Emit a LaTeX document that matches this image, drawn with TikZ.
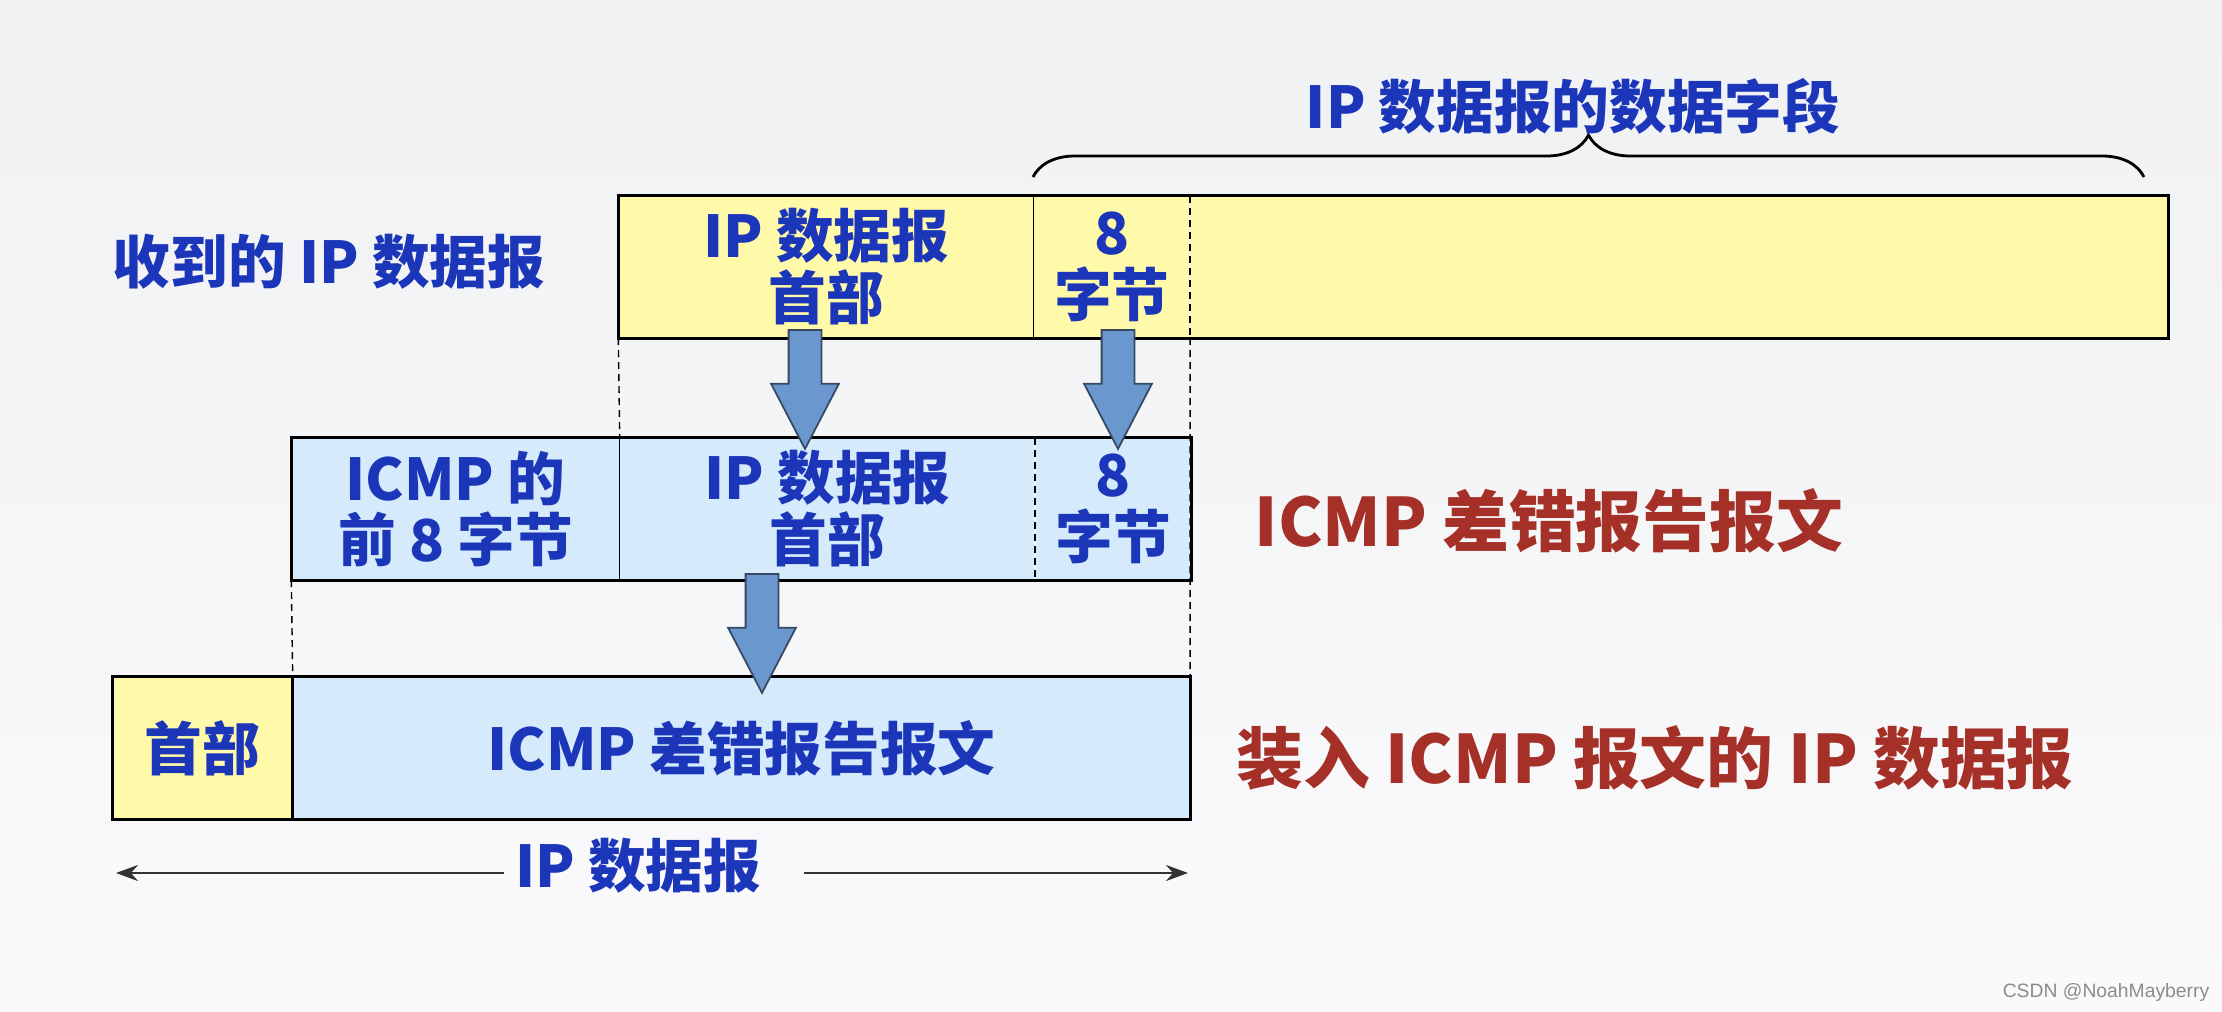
\documentclass[tikz,border=0pt]{standalone}
\usepackage{fontspec}
\setmainfont{Noto Sans CJK SC}
\setsansfont{Liberation Sans}
\usetikzlibrary{arrows.meta, positioning, calc, shapes.arrows, decorations.pathreplacing}

\definecolor{bgtop}{RGB}{240,241,243}
\definecolor{bgbot}{RGB}{250,250,252}
\definecolor{pktyellow}{RGB}{255,250,170}
\definecolor{pktblue}{RGB}{213,234,250}
\definecolor{txtblue}{RGB}{28,54,186}
\definecolor{txtred}{RGB}{165,48,40}
\definecolor{arrowfill}{RGB}{106,152,206}
\definecolor{arrowedge}{RGB}{55,72,100}

\newcommand{\pktfont}{\fontsize{16.4}{17.6}\selectfont\bfseries}
\newcommand{\lblfont}{\fontsize{19}{21}\selectfont\bfseries}

\begin{document}
\begin{tikzpicture}[
  x=0.1mm, y=-0.1mm,
  yel/.style={fill=pktyellow, inner sep=0, minimum height=14.1mm, align=center, text=txtblue, font=\pktfont},
  blu/.style={yel, fill=pktblue},
  frame/.style={line width=0.9pt},
  sep/.style={line width=0.4pt},
  guide/.style={line width=0.4pt, dash pattern=on 0.7mm off 0.5mm},
  bigarrow/.style={single arrow, draw=arrowedge, fill=arrowfill, line width=0.5pt, inner sep=1.55mm, minimum height=11.9mm, minimum width=0pt, single arrow head extend=1.75mm, single arrow tip angle=55, rotate=-90, anchor=tail},
  bluelbl/.style={text=txtblue, font=\pktfont, inner sep=0},
  redlbl/.style={text=txtred, font=\lblfont, inner sep=0, anchor=west},
  dimarr/.style={-{Stealth[length=2.2mm, width=1.6mm]}, line width=0.8pt, draw=black!80}
]
% background
\shade[top color=bgtop, bottom color=bgbot] (0,0) rectangle (2222,1012);

% received datagram
\node[yel, minimum width=41.4mm] (rhdr) at (826,267) {IP 数据报\\首部};
\node[yel, minimum width=15.5mm, right=0pt of rhdr] (r8) {8\\字节};
\node[yel, minimum width=97.7mm, right=0pt of r8] (rdata) {};
\draw[frame] (rhdr.north west) rectangle (rdata.south east);
\draw[sep] (rhdr.north east) -- (rhdr.south east);
\draw[guide] (r8.north east) -- (r8.south east);
\node[bluelbl] (rlbl) at (329,262) {收到的 IP 数据报};

% data field brace
\coordinate (brL) at (1033,177);
\coordinate (brR) at (2144,177);
\draw[line width=0.8pt, decorate, decoration={brace, amplitude=4.2mm}] (brL) -- (brR);
\node[bluelbl] (brlbl) at (1573,106) {IP 数据报的数据字段};

% ICMP error message
\node[blu, minimum width=32.7mm] (micmp) at (455.5,509) {ICMP 的\\前 8 字节};
\node[blu, minimum width=41.4mm, right=0pt of micmp] (mhdr) {IP 数据报\\首部};
\node[blu, minimum width=15.5mm, right=0pt of mhdr] (m8) {8\\字节};
\draw[frame] (micmp.north west) rectangle (m8.south east);
\draw[sep] (micmp.north east) -- (micmp.south east);
\draw[guide] (mhdr.north east) -- (mhdr.south east);
\node[redlbl] (mlbl) at (1254,521) {ICMP 差错报告报文};

% IP datagram carrying ICMP
\node[yel, minimum width=17.9mm] (bhdr) at (202.5,748) {首部};
\node[blu, minimum width=89.6mm, right=0pt of bhdr] (bmsg) {ICMP 差错报告报文};
\draw[frame] (bhdr.north west) rectangle (bmsg.south east);
\draw[frame] (bhdr.north east) -- (bhdr.south east);
\node[redlbl] (blbl) at (1236,758) {装入 ICMP 报文的 IP 数据报};

% dashed guides
\draw[guide] (rhdr.south west) -- (mhdr.north west);
\draw[guide] (r8.south east) -- (bmsg.north east);
\draw[guide] (micmp.south west) -- (bmsg.north west);

% block arrows
\node[bigarrow] (a1) at (805,329) {};
\node[bigarrow] (a2) at (1118,329) {};
\node[bigarrow] (a3) at (762,573) {};

% length of datagram
\node[bluelbl] (dimlbl) at (638,866) {IP 数据报};
\coordinate (dimL) at (116,873);
\coordinate (dimR) at (1188,873);
\draw[dimarr] ($(dimlbl.west |- dimL)+(-10,0)$) -- (dimL);
\draw[dimarr] ($(dimlbl.east |- dimR)+(42,0)$) -- (dimR);

\node[font=\sffamily\fontsize{5.5}{6}\selectfont, text=black!45, anchor=east, inner sep=0] (wm) at (2210,992) {CSDN @NoahMayberry};
\end{tikzpicture}
\end{document}
